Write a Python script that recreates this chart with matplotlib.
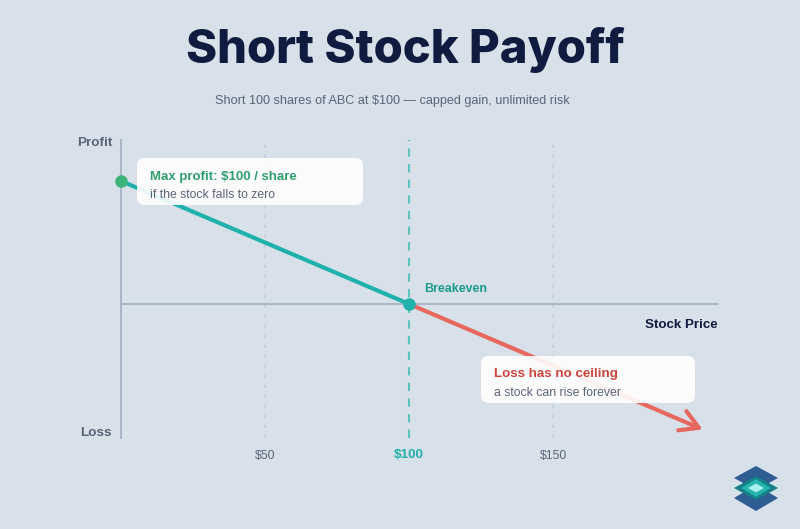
import matplotlib
matplotlib.use("Agg")
import matplotlib.pyplot as plt
from matplotlib.patches import FancyBboxPatch, Polygon

# ---- data ----
entry_price = 100
profit_prices = [0, 100]
profit_values = [100, 0]
loss_prices = [100, 202]
loss_values = [0, -102]
grid_prices = [50, 150]
tick_prices = [50, 100, 150]
tick_labels = ["$50", "$100", "$150"]

BG = "#d8e0e9"
NAVY = "#0f1c3f"
GRAY = "#5a6478"
TEAL = "#20b2aa"
RED = "#e8685f"
GREEN = "#3cb37a"
AXIS = "#a9b6c8"

W, H = 800, 529
fig = plt.figure(figsize=(8, 5.29), dpi=100, facecolor=BG)

x0, x1 = -10, 210
y0, y1 = -115, 140
def px(x): return 121 + 2.88 * x
def py(y): return 304 - 1.23 * y
left = px(x0) / W
width = (px(x1) - px(x0)) / W
bottom = 1 - py(y0) / H
height = (py(y0) - py(y1)) / H
ax = fig.add_axes([left, bottom, width, height])
ax.set_xlim(x0, x1)
ax.set_ylim(y0, y1)
ax.axis("off")

# grid
for g in grid_prices:
    ax.plot([g, g], [-109, 133], color="#c3cedb", lw=1.2, ls=(0, (2, 4)), zorder=1)
ax.plot([entry_price, entry_price], [-109, 133], color="#5cc3bf", lw=1.5, ls=(0, (4, 3.5)), zorder=2)

# axes lines
ax.plot([0, 0], [-109, 133], color=AXIS, lw=1.4, zorder=2)
ax.plot([0, 207.3], [0, 0], color=AXIS, lw=1.4, zorder=2)

# payoff lines
ax.plot(profit_prices, profit_values, color=TEAL, lw=3, solid_capstyle="round", zorder=3)
ax.annotate("", xy=(loss_prices[1], loss_values[1]), xytext=(loss_prices[0], loss_values[0]),
            arrowprops=dict(arrowstyle="->,head_length=1.3,head_width=0.75", color=RED, lw=3,
                            shrinkA=0, shrinkB=0, capstyle="round", joinstyle="round"), zorder=3)
ax.plot([profit_prices[0]], [profit_values[0]], "o", color=GREEN, ms=8, zorder=5)
ax.plot([entry_price], [0], "o", color=TEAL, ms=8, zorder=5)

FONT = "Liberation Sans"

def box(x, y, w, h):
    p = FancyBboxPatch((x / W, 1 - (y + h) / H), w / W, h / H,
                       boxstyle="round,pad=0,rounding_size=0.0095",
                       mutation_aspect=W / H,
                       transform=fig.transFigure, facecolor="white", alpha=0.9,
                       edgecolor="none", zorder=6)
    fig.add_artist(p)

def ftext(x, y, s, **kw):
    kw.setdefault("family", FONT)
    fig.text(x / W, 1 - y / H, s, zorder=7, **kw)

box(137, 158, 226, 47)
box(481, 356, 214, 47)

ftext(150, 177, "Max profit: $100 / share", color="#2e9e6e", fontsize=9.55, weight="bold", va="center")
ftext(150, 195, "if the stock falls to zero", color=GRAY, fontsize=8.85, va="center")
ftext(494, 374, "Loss has no ceiling", color="#cc443c", fontsize=9.6, weight="bold", va="center")
ftext(494, 393, "a stock can rise forever", color=GRAY, fontsize=8.85, va="center")

# titles
ftext(405, 50, "Short Stock Payoff", color=NAVY, fontsize=34, weight="heavy", ha="center", va="center",
      family="Inter")
ftext(392, 101.5, "Short 100 shares of ABC at $100 \u2014 capped gain, unlimited risk", color=GRAY,
      fontsize=9.1, ha="center", va="center")

# axis labels
ftext(112, 142.5, "Profit", color=GRAY, fontsize=9.7, weight="bold", ha="right", va="center")
ftext(112, 432.5, "Loss", color=GRAY, fontsize=9.7, weight="bold", ha="right", va="center")
ftext(718, 325.5, "Stock Price", color=NAVY, fontsize=9.6, weight="bold", ha="right", va="center")
ftext(424, 288.5, "Breakeven", color="#1a9a90", fontsize=8.9, weight="bold", ha="left", va="center")

for p, lab in zip(tick_prices, tick_labels):
    if p == entry_price:
        ftext(px(p), 455.5, lab, color=TEAL, fontsize=9.7, weight="bold", ha="center", va="center")
    else:
        ftext(px(p), 455.5, lab, color=GRAY, fontsize=8.85, ha="center", va="center")

# logo
def diamond(cx, cy, hw, hh, color):
    pts = [((cx - hw) / W, 1 - cy / H), (cx / W, 1 - (cy - hh) / H),
           ((cx + hw) / W, 1 - cy / H), (cx / W, 1 - (cy + hh) / H)]
    fig.add_artist(Polygon(pts, closed=True, transform=fig.transFigure, facecolor=color,
                           edgecolor="none", zorder=8))

diamond(756, 498, 22, 13, "#2e5d94")
diamond(756, 478, 22, 12, "#2e5d94")
diamond(756, 488, 22, 12, "#137f86")
diamond(756, 488, 15, 9, "#25b5ad")
diamond(756, 488, 8, 4.5, "#a8f0f0")

fig.savefig("out.png", dpi=100, facecolor=BG)
